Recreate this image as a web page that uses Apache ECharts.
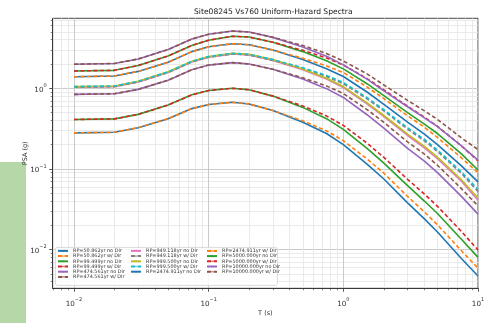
<!DOCTYPE html>
<html>
<head>
<meta charset="utf-8">
<script src="https://cdn.jsdelivr.net/npm/echarts@6/dist/echarts.min.js"></script>
<style>
  html, body { margin: 0; padding: 0; background: #fff; }
  #chart_uhs { width: 489px; height: 323px; }
</style>
</head>
<body>
<div id="chart_uhs"></div>
<script>
  // periods (s)
  const periods = [0.01, 0.02, 0.03, 0.05, 0.075, 0.1, 0.15, 0.2, 0.3, 0.5, 0.75, 1, 1.5, 2, 3, 4, 5, 7.5, 10];

  // PSA (g)
  const rp50_no = [0.28, 0.285, 0.325, 0.42, 0.56, 0.63, 0.67, 0.64, 0.53, 0.38, 0.275, 0.2, 0.115, 0.075, 0.038, 0.024, 0.0165, 0.0078, 0.0047];
  const rp50_w = [0.28, 0.285, 0.325, 0.42, 0.56, 0.63, 0.67, 0.64, 0.53, 0.395, 0.297, 0.224, 0.133, 0.0885, 0.0456, 0.0293, 0.0203, 0.00975, 0.00588];
  const rp99_no = [0.41, 0.418, 0.475, 0.62, 0.83, 0.94, 1.0, 0.96, 0.8, 0.58, 0.42, 0.31, 0.18, 0.118, 0.062, 0.04, 0.028, 0.0135, 0.008];
  const rp99_w = [0.41, 0.418, 0.475, 0.62, 0.83, 0.94, 1.0, 0.96, 0.8, 0.603, 0.454, 0.347, 0.209, 0.139, 0.0744, 0.0488, 0.0344, 0.0169, 0.0099];
  const rp474_no = [0.84, 0.855, 0.97, 1.26, 1.7, 1.94, 2.08, 2.0, 1.72, 1.3, 0.99, 0.77, 0.47, 0.32, 0.18, 0.125, 0.09, 0.046, 0.0275];
  const rp474_w = [0.84, 0.855, 0.97, 1.26, 1.7, 1.94, 2.08, 2.0, 1.72, 1.35, 1.07, 0.862, 0.545, 0.378, 0.216, 0.153, 0.111, 0.0575, 0.0347];
  const rp949_no = [1.03, 1.05, 1.2, 1.57, 2.12, 2.43, 2.67, 2.59, 2.22, 1.7, 1.3, 1.02, 0.64, 0.445, 0.26, 0.183, 0.134, 0.071, 0.041];
  const rp949_w = [1.03, 1.05, 1.2, 1.57, 2.12, 2.43, 2.67, 2.59, 2.22, 1.77, 1.4, 1.14, 0.742, 0.525, 0.312, 0.223, 0.165, 0.0888, 0.0525];
  const rp999_no = [1.05, 1.07, 1.22, 1.6, 2.16, 2.48, 2.72, 2.64, 2.27, 1.73, 1.33, 1.05, 0.66, 0.46, 0.27, 0.19, 0.14, 0.074, 0.0436];
  const rp999_w = [1.05, 1.07, 1.22, 1.6, 2.16, 2.48, 2.72, 2.64, 2.27, 1.8, 1.44, 1.18, 0.766, 0.543, 0.324, 0.232, 0.172, 0.0925, 0.0558];
  const rp2475_no = [1.39, 1.42, 1.62, 2.1, 2.85, 3.27, 3.57, 3.47, 2.98, 2.27, 1.75, 1.4, 0.9, 0.63, 0.38, 0.27, 0.2, 0.11, 0.069];
  const rp2475_w = [1.39, 1.42, 1.62, 2.1, 2.85, 3.27, 3.57, 3.47, 2.98, 2.36, 1.89, 1.57, 1.04, 0.743, 0.456, 0.329, 0.246, 0.138, 0.09];
  const rp5000_no = [1.64, 1.67, 1.92, 2.52, 3.4, 3.95, 4.42, 4.32, 3.72, 2.85, 2.2, 1.74, 1.14, 0.81, 0.5, 0.36, 0.275, 0.155, 0.097];
  const rp5000_w = [1.64, 1.67, 1.92, 2.52, 3.4, 3.95, 4.42, 4.32, 3.72, 2.96, 2.38, 1.95, 1.32, 0.956, 0.6, 0.439, 0.338, 0.194, 0.126];
  const rp10000_no = [1.99, 2.03, 2.31, 3.02, 4.08, 4.68, 5.13, 4.98, 4.28, 3.26, 2.5, 1.95, 1.3, 0.93, 0.59, 0.43, 0.334, 0.195, 0.129];
  const rp10000_w = [1.99, 2.03, 2.31, 3.02, 4.08, 4.68, 5.13, 4.98, 4.28, 3.39, 2.7, 2.18, 1.51, 1.1, 0.708, 0.525, 0.411, 0.244, 0.174];

  const seriesNames = [
    'RP=50.862yr no Dir', 'RP=50.862yr w/ Dir', 'RP=99.499yr no Dir', 'RP=99.499yr w/ Dir',
    'RP=474.561yr no Dir', 'RP=474.561yr w/ Dir', 'RP=949.118yr no Dir', 'RP=949.118yr w/ Dir',
    'RP=999.500yr no Dir', 'RP=999.500yr w/ Dir', 'RP=2474.911yr no Dir', 'RP=2474.911yr w/ Dir',
    'RP=5000.000yr no Dir', 'RP=5000.000yr w/ Dir', 'RP=10000.000yr no Dir', 'RP=10000.000yr w/ Dir'
  ];
  const seriesValues = [
    rp50_no, rp50_w, rp99_no, rp99_w, rp474_no, rp474_w, rp949_no, rp949_w,
    rp999_no, rp999_w, rp2475_no, rp2475_w, rp5000_no, rp5000_w, rp10000_no, rp10000_w
  ];

  // axis limits and ticks, as powers of ten
  const xLimits = [-2.158, 1];
  const yLimits = [-2.48, 0.868];
  const xMajorExp = [-2, -1, 0, 1];
  const yMajorExp = [-2, -1, 0];

  const palette = ['#1f77b4', '#ff7f0e', '#2ca02c', '#d62728', '#9467bd', '#8c564b', '#e377c2', '#7f7f7f', '#bcbd22', '#17becf'];

  function minorExp(lim) {
    let out = [];
    for (let n = -4; n <= 2; n++) {
      for (let k = 2; k <= 9; k++) {
        let v = n + Math.log10(k);
        if (v > lim[0] && v < lim[1]) out.push(v);
      }
    }
    return out;
  }

  function powLabel(v) {
    let e = Math.round(v);
    return '{b|10}{s|' + (e < 0 ? '\u2212' + (-e) : e) + '}';
  }

  const richTick = {
    b: { fontSize: 7.2, fontFamily: 'DejaVu Sans', color: '#333', verticalAlign: 'bottom', lineHeight: 10 },
    s: { fontSize: 5, fontFamily: 'DejaVu Sans', color: '#333', verticalAlign: 'top', lineHeight: 10 }
  };

  const series = seriesNames.map((name, i) => ({
    name: name,
    type: 'line',
    symbol: 'none',
    color: palette[i % 10],
    lineStyle: {
      width: 1.6,
      type: i % 2 === 1 ? [4, 2.5] : 'solid'
    },
    data: periods.map((t, j) => [Math.log10(t), Math.log10(seriesValues[i][j])])
  }));

  const legendText = { fontSize: 4.9, fontFamily: 'DejaVu Sans', color: '#333', lineHeight: 5.2 };
  function legendCol(left, names) {
    return {
      orient: 'vertical',
      left: left,
      top: 248.3,
      padding: 0,
      itemWidth: 10,
      itemHeight: 2,
      itemGap: 0,
      textStyle: legendText,
      data: names
    };
  }

  let myChart = echarts.init(document.getElementById('chart_uhs'));
  myChart.setOption({
    animation: false,
    backgroundColor: '#fff',
    title: {
      text: 'Site08245 Vs760 Uniform-Hazard Spectra',
      left: 189,
      top: 3,
      textStyle: { fontSize: 7.6, fontWeight: 'normal', fontFamily: 'DejaVu Sans', color: '#222' }
    },
    graphic: [
      { type: 'rect', left: 0, top: 162, shape: { width: 26, height: 161 }, style: { fill: '#b6d7a8' }, z: -1 },
      { type: 'rect', left: 55, top: 247, shape: { width: 222, height: 38, r: 2 }, style: { fill: 'rgba(255,255,255,0.85)', stroke: '#d0d0d0', lineWidth: 0.8 }, z: 3 }
    ],
    legend: [
      legendCol(57, seriesNames.slice(0, 6)),
      legendCol(130, seriesNames.slice(6, 11)),
      legendCol(206, seriesNames.slice(11, 16))
    ],
    grid: {
      left: 52.7,
      right: 11,
      top: 18.3,
      bottom: 34.7,
      show: true,
      borderColor: '#333',
      borderWidth: 0.9
    },
    xAxis: [
      {
        type: 'value',
        min: xLimits[0],
        max: xLimits[1],
        position: 'bottom',
        name: 'T (s)',
        nameLocation: 'middle',
        nameGap: 22,
        nameMoveOverlap: false,
        nameTextStyle: { fontSize: 6.5, fontFamily: 'DejaVu Sans', color: '#333' },
        axisLine: { show: true, onZero: false, lineStyle: { color: '#333', width: 0.9 } },
        axisTick: { show: true, length: 3.5, customValues: xMajorExp, lineStyle: { color: '#333', width: 0.8 } },
        axisLabel: { customValues: xMajorExp, margin: 9, formatter: powLabel, rich: richTick },
        splitLine: { show: true, lineStyle: { color: '#c4c4c4', width: 0.9 } }
      },
      {
        type: 'value',
        min: xLimits[0],
        max: xLimits[1],
        position: 'bottom',
        axisLine: { show: false, onZero: false },
        axisTick: { show: true, length: 2, customValues: minorExp(xLimits), lineStyle: { color: '#333', width: 0.6 } },
        axisLabel: { show: false },
        splitLine: { show: true, lineStyle: { color: '#e4e4e4', width: 0.8 } }
      }
    ],
    yAxis: [
      {
        type: 'value',
        min: yLimits[0],
        max: yLimits[1],
        position: 'left',
        name: 'PSA (g)',
        nameLocation: 'middle',
        nameGap: 24,
        nameMoveOverlap: false,
        nameTextStyle: { fontSize: 6.5, fontFamily: 'DejaVu Sans', color: '#333' },
        axisLine: { show: true, onZero: false, lineStyle: { color: '#333', width: 0.9 } },
        axisTick: { show: true, length: 3.5, customValues: yMajorExp, lineStyle: { color: '#333', width: 0.8 } },
        axisLabel: { customValues: yMajorExp, margin: 6, formatter: powLabel, rich: richTick },
        splitLine: { show: true, lineStyle: { color: '#c4c4c4', width: 0.9 } }
      },
      {
        type: 'value',
        min: yLimits[0],
        max: yLimits[1],
        position: 'left',
        axisLine: { show: false, onZero: false },
        axisTick: { show: true, length: 2, customValues: minorExp(yLimits), lineStyle: { color: '#333', width: 0.6 } },
        axisLabel: { show: false },
        splitLine: { show: true, lineStyle: { color: '#e4e4e4', width: 0.8 } }
      }
    ],
    series: series
  });
</script>
</body>
</html>
